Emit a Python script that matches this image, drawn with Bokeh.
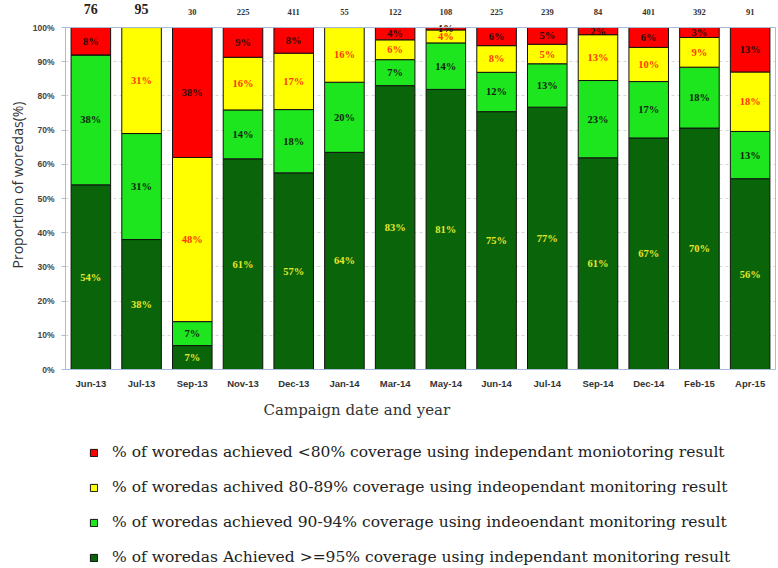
from bokeh.plotting import figure
from bokeh.layouts import column
from bokeh.models import (ColumnDataSource, LabelSet, Legend, LegendItem, Title, Span,
                          FixedTicker, PrintfTickFormatter, Range1d, FactorRange, LinearAxis)
from bokeh.embed import file_html
from bokeh.resources import INLINE

campaigns = ["Jun-13", "Jul-13", "Sep-13", "Nov-13", "Dec-13", "Jan-14", "Mar-14",
             "May-14", "Jun-14", "Jul-14", "Sep-14", "Dec-14", "Feb-15", "Apr-15"]
woredas = ["76", "95", "30", "225", "411", "55", "122", "108", "225", "239", "84", "401", "392", "91"]

# segment heights (% of woredas)
ge95 = [54.0, 38.0, 7.0, 61.6, 57.5, 63.5, 83.0, 81.9, 75.4, 76.7, 61.9, 67.7, 70.6, 55.8]
p90_94 = [38.0, 31.0, 7.0, 14.3, 18.5, 20.5, 7.6, 13.6, 11.5, 12.7, 22.6, 16.5, 17.8, 13.8]
p80_89 = [0.0, 31.0, 48.0, 15.4, 16.5, 16.0, 5.8, 3.8, 7.8, 5.7, 13.4, 10.0, 8.7, 17.4]
lt80 = [8.0, 0.0, 38.0, 8.7, 7.5, 0.0, 3.6, 0.7, 5.3, 4.9, 2.1, 5.8, 2.9, 13.0]

# printed labels
ge95_lbl = ["54%", "38%", "7%", "61%", "57%", "64%", "83%", "81%", "75%", "77%", "61%", "67%", "70%", "56%"]
p90_94_lbl = ["38%", "31%", "7%", "14%", "18%", "20%", "7%", "14%", "12%", "13%", "23%", "17%", "18%", "13%"]
p80_89_lbl = ["", "31%", "48%", "16%", "17%", "16%", "6%", "4%", "8%", "5%", "13%", "10%", "9%", "18%"]
lt80_lbl = ["8%", "", "38%", "9%", "8%", "", "4%", "1%", "6%", "5%", "2%", "6%", "3%", "13%"]

legend_labels = [
    "% of woredas achieved <80% coverage using independant moniotoring result",
    "% of woredas achived 80-89% coverage using indeopendant monitoring result",
    "% of woredas achieved 90-94% coverage using indeoendant monitoring result",
    "% of woredas Achieved >=95% coverage using independant monitoring result",
]

y_ticks = list(range(0, 101, 10))

colors = ["#0a640a", "#1ee61e", "#ffff00", "#ff0000"]
label_colors = ["#e8e82a", "#0d240d", "#ff3a00", "#2a0808"]
border_color = "#a9bcd6"

src = ColumnDataSource(dict(campaign=campaigns, ge95=ge95, p90_94=p90_94,
                            p80_89=p80_89, lt80=lt80))

ymax = y_ticks[-1]
p = figure(x_range=FactorRange(*campaigns, range_padding=0.0), y_range=Range1d(0, ymax * 1.079),
           width=778, height=425, output_backend="svg", toolbar_location=None,
           min_border_left=65, min_border_right=3, min_border_top=0, min_border_bottom=56)

renderers = p.vbar_stack(["ge95", "p90_94", "p80_89", "lt80"], x="campaign", width=0.78,
                         color=colors, line_color="#111111", line_width=1, source=src)

# segment labels
stacks = [ge95, p90_94, p80_89, lt80]
texts = [ge95_lbl, p90_94_lbl, p80_89_lbl, lt80_lbl]
base = [0.0] * len(campaigns)
for vals, lbls, col in zip(stacks, texts, label_colors):
    mids = [b + v / 2 for b, v in zip(base, vals)]
    base = [b + v for b, v in zip(base, vals)]
    ls = ColumnDataSource(dict(x=campaigns, y=mids, t=lbls))
    p.add_layout(LabelSet(x="x", y="y", text="t", source=ls, text_align="center",
                          text_baseline="middle", text_font="Liberation Sans",
                          text_font_style="bold", text_font_size="10.5px", text_color=col))

# counts above bars
top = [float(ymax)] * len(campaigns)
c1 = ColumnDataSource(dict(x=campaigns[:2], y=top[:2], t=woredas[:2]))
c2 = ColumnDataSource(dict(x=campaigns[2:], y=top[2:], t=woredas[2:]))
p.add_layout(LabelSet(x="x", y="y", text="t", source=c1, y_offset=19, text_align="center",
                      text_baseline="middle", text_font="Liberation Serif",
                      text_font_style="bold", text_font_size="14px", text_color="#222222"))
p.add_layout(LabelSet(x="x", y="y", text="t", source=c2, y_offset=16, text_align="center",
                      text_baseline="middle", text_font="Liberation Sans",
                      text_font_style="bold", text_font_size="8.5px", text_color="#333333"))

# axes
p.yaxis.bounds = (0, ymax)
p.yaxis.ticker = FixedTicker(ticks=y_ticks)
p.yaxis.formatter = PrintfTickFormatter(format="%d%%")
p.yaxis.major_label_text_font = "Liberation Sans"
p.yaxis.major_label_text_font_style = "bold"
p.yaxis.major_label_text_font_size = "8.5px"
p.yaxis.major_label_text_color = "#444444"
p.yaxis.major_tick_out = 4
p.yaxis.major_tick_in = 0
p.yaxis.minor_tick_out = 0
p.yaxis.minor_tick_in = 0
p.yaxis.major_label_standoff = 7
p.yaxis.axis_line_color = border_color
p.yaxis.major_tick_line_color = border_color
p.yaxis.axis_label = "Proportion of woredas(%)"
p.yaxis.axis_label_text_font = "Open Sans"
p.yaxis.axis_label_text_font_style = "normal"
p.yaxis.axis_label_text_font_size = "14px"
p.yaxis.axis_label_text_color = "#333333"
p.yaxis.axis_label_standoff = 3

p.xaxis.major_label_text_font = "Liberation Sans"
p.xaxis.major_label_text_font_style = "bold"
p.xaxis.major_label_text_font_size = "9.5px"
p.xaxis.major_label_text_color = "#333333"
p.xaxis.major_tick_out = 0
p.xaxis.major_tick_in = 0
p.xaxis.major_label_standoff = 8
p.xaxis.axis_line_color = border_color

# plot-area border: right edge and top edge at 100%
right_axis = LinearAxis(bounds=(0, ymax), ticker=FixedTicker(ticks=[]),
                        axis_line_color=border_color, major_tick_line_color=None,
                        minor_tick_line_color=None, major_label_text_font_size="0px")
p.add_layout(right_axis, "right")
p.add_layout(Span(location=ymax, dimension="width", line_color=border_color, line_width=1))

p.xgrid.grid_line_color = None
p.ygrid.grid_line_color = "#d6d6d6"
p.ygrid.grid_line_dash = "3 3"
p.outline_line_color = None
p.background_fill_color = "white"

# x axis title
xt = Title(text="Campaign date and year", align="left", offset=198,
           text_font="DejaVu Serif", text_font_style="normal", text_font_size="15px",
           text_color="#333333", standoff=14)
p.add_layout(xt, "below")

# legend panel
q = figure(width=778, height=143, output_backend="svg", toolbar_location=None,
           x_range=Range1d(0, 1), y_range=Range1d(0, 1),
           min_border_left=0, min_border_right=0, min_border_top=0, min_border_bottom=0)
q.axis.visible = False
q.grid.visible = False
q.outline_line_color = None
swatches = [q.vbar(x=[-5], top=[-5], bottom=[-6], width=0.1, fill_color=c,
                   line_color="#111111", line_width=1) for c in colors]
order = [3, 2, 1, 0]
items = [LegendItem(label=legend_labels[i], renderers=[swatches[j]])
         for i, j in enumerate(order)]
leg = Legend(items=items, location=(24, 2), orientation="vertical",
             glyph_width=9, glyph_height=9, label_standoff=14, spacing=17,
             label_height=14, padding=0, margin=0, border_line_color=None,
             background_fill_alpha=0, label_text_font="DejaVu Serif",
             label_text_font_size="15.5px", label_text_color="#222222")
q.add_layout(leg, "center")

open("out.html", "w").write(file_html(column(p, q, spacing=0), INLINE))
